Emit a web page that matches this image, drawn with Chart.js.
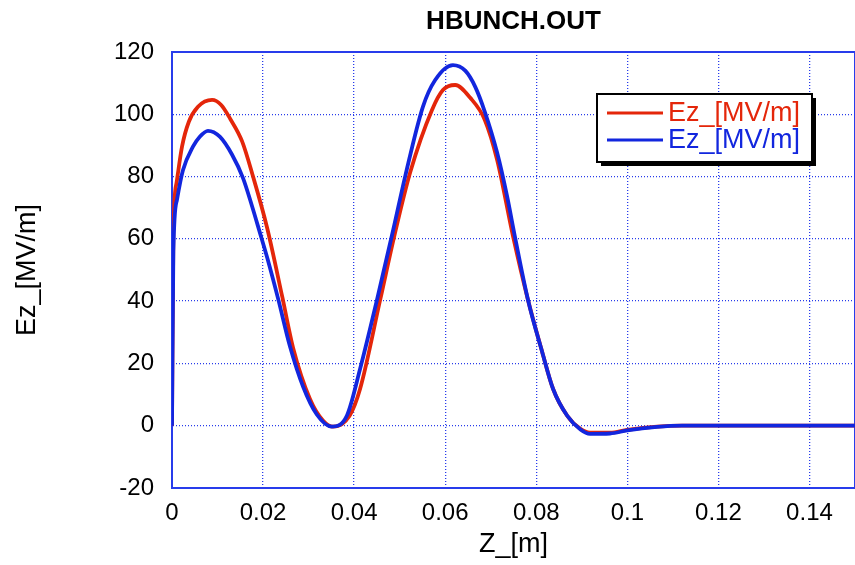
<!DOCTYPE html>
<html>
<head>
<meta charset="utf-8">
<title>HBUNCH.OUT</title>
<script src="https://cdn.jsdelivr.net/npm/chart.js@4.4.0/dist/chart.umd.min.js"></script>
<style>
  html, body { margin: 0; padding: 0; background: #fff; }
  #wrap { width: 855px; height: 565px; }
</style>
</head>
<body>
<div id="wrap"><canvas id="ezChart" width="855" height="565"></canvas></div>
<script>
// Ez along Z
var zRed = [0, 0.0003, 0.001, 0.0022, 0.0037, 0.0057, 0.0088, 0.0108, 0.0128, 0.0154, 0.0178, 0.0209,
    0.0242, 0.0266, 0.0303, 0.0332, 0.0354, 0.039, 0.0413, 0.0457, 0.049, 0.0523, 0.0571, 0.0595,
    0.0622, 0.0655, 0.0687, 0.0714, 0.0749, 0.0782, 0.0813, 0.0837, 0.0868, 0.0897, 0.0918, 0.0962,
    0.1, 0.1065, 0.112, 0.15];
var ezRed = [0, 62, 78, 89.6, 97.6, 102.4, 104.6, 103, 98.5, 91.3, 80, 63.5,
    41.5, 25, 8.6, 1.6, -0.3, 3.2, 11.8, 40.3, 62, 81.3, 101.4, 107.8,
    109.4, 105.3, 98.2, 85.4, 60.8, 40.3, 23.7, 11.8, 3.2, -1, -2.2, -2.2,
    -1.3, -0.3, 0, 0];

var zBlue = [0, 0.0003, 0.0011, 0.0024, 0.0046, 0.0061, 0.0079, 0.0105, 0.0132, 0.0156, 0.0176, 0.0193,
    0.0209, 0.0233, 0.0259, 0.0288, 0.0318, 0.0351, 0.0384, 0.0413, 0.045, 0.0486, 0.0512, 0.0551,
    0.0578, 0.0617, 0.0644, 0.0666, 0.0687, 0.0714, 0.0736, 0.0753, 0.0782, 0.0813, 0.0837, 0.0868,
    0.0897, 0.0918, 0.0962, 0.1, 0.1065, 0.112, 0.15];
var ezBlue = [0, 56, 72.6, 82, 89.6, 92.8, 94.7, 92.8, 87, 79.5, 70.4, 62,
    54, 40.8, 25.5, 12.5, 3.6, -0.3, 3.2, 18.2, 40.3, 63, 80, 102.4,
    111, 115.8, 114, 108.8, 100.8, 87.7, 73.6, 60.8, 40.3, 23.7, 11.8, 3.2,
    -1.2, -2.6, -2.5, -1.5, -0.4, 0, 0];

var seriesLabels = ['Ez_[MV/m]', 'Ez_[MV/m]'];
var xTicks = [0, 0.02, 0.04, 0.06, 0.08, 0.1, 0.12, 0.14];
var yTicks = [-20, 0, 20, 40, 60, 80, 100, 120];

var RED = 'rgb(228,38,10)';
var BLUE = 'rgb(18,38,222)';
var GRID = 'rgb(40,60,235)';
var FONT = "'Liberation Sans', Arial, Helvetica, sans-serif";

function toPoints(xs, ys) {
    return xs.map(function(x, i) { return { x: x, y: ys[i] }; });
}

// solid frame around the plot area
var framePlugin = {
    id: 'frame',
    beforeDatasetsDraw: function(chart) {
        var a = chart.chartArea, ctx = chart.ctx;
        ctx.save();
        ctx.strokeStyle = GRID;
        ctx.lineWidth = 2;
        ctx.strokeRect(a.left, a.top, a.right - a.left, a.bottom - a.top);
        ctx.restore();
    }
};

// boxed legend with a drop shadow
var boxLegend = {
    id: 'boxLegend',
    afterDraw: function(chart) {
        var ctx = chart.ctx;
        var x = 597, y = 94, w = 215, h = 68;
        ctx.save();
        ctx.fillStyle = '#000';
        ctx.fillRect(x + 4, y + 4, w, h);
        ctx.fillStyle = '#fff';
        ctx.fillRect(x, y, w, h);
        ctx.strokeStyle = '#000';
        ctx.lineWidth = 2;
        ctx.strokeRect(x, y, w, h);
        ctx.font = '27px ' + FONT;
        ctx.textBaseline = 'middle';
        chart.data.datasets.forEach(function(ds, i) {
            var ly = y + 19 + i * 27;
            ctx.strokeStyle = ds.borderColor;
            ctx.lineWidth = 3;
            ctx.beginPath();
            ctx.moveTo(x + 10, ly);
            ctx.lineTo(x + 66, ly);
            ctx.stroke();
            ctx.fillStyle = ds.borderColor;
            ctx.fillText(ds.label, x + 71, ly + 1);
        });
        ctx.restore();
    }
};

new Chart(document.getElementById('ezChart').getContext('2d'), {
    type: 'line',
    data: {
        datasets: [{
            label: seriesLabels[0],
            data: toPoints(zRed, ezRed),
            borderColor: RED,
            borderWidth: 3.8,
            pointRadius: 0,
            cubicInterpolationMode: 'monotone',
            order: 2
        }, {
            label: seriesLabels[1],
            data: toPoints(zBlue, ezBlue),
            borderColor: BLUE,
            borderWidth: 3.8,
            pointRadius: 0,
            cubicInterpolationMode: 'monotone',
            order: 1
        }]
    },
    options: {
        responsive: false,
        animation: false,
        layout: { padding: 0 },
        plugins: {
            legend: { display: false },
            tooltip: { enabled: false },
            title: {
                display: true,
                text: 'HBUNCH.OUT',
                fullSize: false,
                color: '#000',
                font: { family: FONT, size: 26, weight: 'bold', lineHeight: 1.2 },
                padding: { top: 6, bottom: 14.8 }
            }
        },
        scales: {
            x: {
                type: 'linear',
                min: 0,
                max: 0.15,
                afterFit: function(s) { s.height = 77; },
                afterBuildTicks: function(s) { s.ticks = xTicks.map(function(v) { return { value: v }; }); },
                ticks: {
                    color: '#000',
                    padding: 11,
                    maxRotation: 0,
                    font: { family: FONT, size: 24 },
                    callback: function(v) { return String(Math.round(v * 100) / 100); }
                },
                grid: { color: GRID, borderDash: [1.2, 1.5], lineWidth: 1.3, drawTicks: false },
                border: { color: GRID, width: 2, dash: [1, 2] },
                title: {
                    display: true,
                    text: 'Z_[m]',
                    color: '#000',
                    font: { family: FONT, size: 27, lineHeight: 1.2 },
                    padding: { top: 0, bottom: 4 }
                }
            },
            y: {
                min: -20,
                max: 120,
                afterFit: function(s) { s.width = 172; },
                afterBuildTicks: function(s) { s.ticks = yTicks.map(function(v) { return { value: v }; }); },
                ticks: {
                    color: '#000',
                    padding: 18,
                    font: { family: FONT, size: 24 }
                },
                grid: { color: GRID, borderDash: [1.2, 1.5], lineWidth: 1.3, drawTicks: false },
                border: { color: GRID, width: 2, dash: [1, 2] },
                title: {
                    display: true,
                    text: 'Ez_[MV/m]',
                    color: '#000',
                    font: { family: FONT, size: 27, lineHeight: 1.2 },
                    padding: { top: 11, bottom: 0 }
                }
            }
        }
    },
    plugins: [framePlugin, boxLegend]
});
</script>
</body>
</html>
